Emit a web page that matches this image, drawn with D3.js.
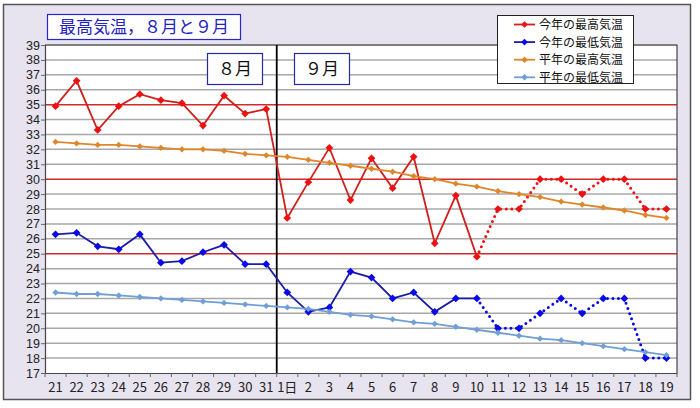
<!DOCTYPE html>
<html><head><meta charset="utf-8">
<script src="https://cdn.jsdelivr.net/npm/d3@7"></script>
<style>
body{margin:0;background:#fff;}
text{font-family:"Noto Sans CJK JP","Noto Sans",sans-serif;}
.num text{font-family:"Liberation Sans",Arial,sans-serif;}
</style></head>
<body><svg id="c" width="700" height="408"></svg>
<script>
const days = ["21","22","23","24","25","26","27","28","29","30","31","1日","2","3","4","5","6","7","8","9","10","11","12","13","14","15","16","17","18","19"];
const maxThisYear = [34.9,36.6,33.3,34.9,35.7,35.3,35.1,33.6,35.6,34.4,34.7,27.4,29.8,32.1,28.6,31.4,29.4,31.5,25.7,28.9,24.8,28,28,30,30,29,30,30,28,28];
const minThisYear = [26.3,26.4,25.5,25.3,26.3,24.4,24.5,25.1,25.6,24.3,24.3,22.4,21.1,21.4,23.8,23.4,22.0,22.4,21.1,22.0,22.0,20,20,21,22,21,22,22,18,18];
const maxNormal = [32.5,32.4,32.3,32.3,32.2,32.1,32.0,32.0,31.9,31.7,31.6,31.5,31.3,31.1,30.9,30.7,30.5,30.2,30.0,29.7,29.5,29.2,29.0,28.8,28.5,28.3,28.1,27.9,27.6,27.4];
const minNormal = [22.4,22.3,22.3,22.2,22.1,22.0,21.9,21.8,21.7,21.6,21.5,21.4,21.3,21.1,20.9,20.8,20.6,20.4,20.3,20.1,19.9,19.7,19.5,19.3,19.2,19.0,18.8,18.6,18.4,18.2];
const yTicks = d3.range(17, 40);
const redLines = [35, 30, 25];
const forecastStart = 20; // index of "10" — dotted afterwards
const legendLabels = ["今年の最高気温","今年の最低気温","平年の最高気温","平年の最低気温"];
const titleText = "最高気温，８月と９月";
const monthLabels = ["８月","９月"];

const svg = d3.select("#c");
const L = 45, R = 677, T = 45, B = 373;

// outer frame
svg.append("rect").attr("x",3.5).attr("y",4.5).attr("width",687).attr("height",395)
  .attr("fill","#e7e3ef").attr("stroke","#555").attr("stroke-width",1.5);

const x = d3.scaleBand().domain(days).range([L,R]).padding(0);
const y = d3.scaleLinear().domain([17,39]).range([B,T]);
const cx = d => x(d) + x.bandwidth()/2;

svg.append("rect").attr("x",L).attr("y",T).attr("width",R-L).attr("height",B-T).attr("fill","#fff");

// gridlines
svg.append("g").selectAll("line").data(yTicks.filter(v=>v>17)).join("line")
  .attr("x1",L).attr("x2",R).attr("y1",d=>y(d)).attr("y2",d=>y(d))
  .attr("stroke",d=>redLines.includes(d)?"#d42a2a":"#a8a8a8").attr("stroke-width",1.5);

// axes
const ya = svg.append("g").attr("class","num").attr("transform",`translate(${L},0)`)
  .call(d3.axisLeft(y).tickValues(yTicks).tickSize(4).tickFormat(d3.format("d")));
ya.select(".domain").attr("stroke","#444").attr("stroke-width",1.2);
ya.selectAll(".tick line").attr("stroke","#666");
ya.selectAll(".tick text").attr("font-size",12.5).attr("fill","#222").attr("x",-5);

const xa = svg.append("g").attr("transform",`translate(0,${B})`)
  .call(d3.axisBottom(x).tickSize(0));
xa.select(".domain").attr("stroke","#444").attr("stroke-width",1.2);
xa.selectAll(".tick text").attr("font-size",13).attr("fill","#222").attr("dy","1.2em");
// band boundary ticks
svg.append("g").selectAll("line").data(days).join("line")
  .attr("x1",d=>x(d)).attr("x2",d=>x(d)).attr("y1",B).attr("y2",B+4).attr("stroke","#666");
svg.append("line").attr("x1",R).attr("x2",R).attr("y1",B).attr("y2",B+4).attr("stroke","#666");

// right / top border of plot
svg.append("path").attr("d",`M${L},${T}H${R}V${B}`).attr("fill","none").attr("stroke","#444").attr("stroke-width",1.2);

// month divider
svg.append("line").attr("x1",x("1日")).attr("x2",x("1日")).attr("y1",T).attr("y2",B)
  .attr("stroke","#000").attr("stroke-width",1.8);

const series = [
  {vals:maxThisYear, line:"#d0201c", mark:"#ee1111", dotted:true},
  {vals:minThisYear, line:"#1c1ca8", mark:"#0a0ae6", dotted:true},
  {vals:maxNormal, line:"#e0862a", mark:"#e0862a", dotted:false},
  {vals:minNormal, line:"#6f9fd6", mark:"#6f9fd6", dotted:false}
];
const line = d3.line().x(d=>cx(d.k)).y(d=>y(d.v));
series.forEach((s,si)=>{
  const pts = s.vals.map((v,i)=>({k:days[i],v,i}));
  const g = svg.append("g");
  if (s.dotted) {
    g.append("path").attr("d",line(pts.filter(p=>p.i<=forecastStart))).attr("fill","none")
      .attr("stroke",s.line).attr("stroke-width",1.8);
    g.append("path").attr("d",line(pts.filter(p=>p.i>=forecastStart))).attr("fill","none")
      .attr("stroke",s.mark).attr("stroke-width",3).attr("stroke-dasharray","0 5.5").attr("stroke-linecap","round");
  } else {
    g.append("path").attr("d",line(pts)).attr("fill","none").attr("stroke",s.line).attr("stroke-width",1.8);
  }
  g.selectAll("path.m").data(pts).join("path").attr("class","m")
    .attr("transform",d=>`translate(${cx(d.k)},${y(d.v)}) rotate(45)`)
    .attr("d",d3.symbol(d3.symbolSquare, s.dotted?30:20)).attr("fill",s.mark);
});

// title box
svg.append("rect").attr("x",47.5).attr("y",14.5).attr("width",193).attr("height",25)
  .attr("fill","#fff").attr("stroke","#2828c8").attr("stroke-width",1.2);
svg.append("text").attr("x",144).attr("y",33).attr("text-anchor","middle")
  .attr("font-size",17).attr("fill","#2323c4").text(titleText);

// month boxes
[[207,monthLabels[0]],[294,monthLabels[1]]].forEach(([bx,t])=>{
  svg.append("rect").attr("x",bx+0.5).attr("y",53.5).attr("width",55).attr("height",31)
    .attr("fill","#fff").attr("stroke","#2828a0").attr("stroke-width",1.2);
  svg.append("text").attr("x",bx+28).attr("y",75).attr("text-anchor","middle")
    .attr("font-size",17).attr("fill","#111").text(t);
});

// legend
const lg = svg.append("g");
lg.append("rect").attr("x",497.5).attr("y",15.5).attr("width",136).attr("height",68)
  .attr("fill","#fff").attr("stroke","#222").attr("stroke-width",1);
series.forEach((s,i)=>{
  const ly = 24.5 + i*17.6;
  lg.append("line").attr("x1",514).attr("x2",535).attr("y1",ly).attr("y2",ly).attr("stroke",s.line).attr("stroke-width",1.8);
  lg.append("path").attr("transform",`translate(524.5,${ly}) rotate(45)`).attr("d",d3.symbol(d3.symbolSquare,22)).attr("fill",s.mark);
  lg.append("text").attr("x",539).attr("y",ly+4.5).attr("font-size",12).attr("fill","#111").text(legendLabels[i]);
});
</script></body></html>
